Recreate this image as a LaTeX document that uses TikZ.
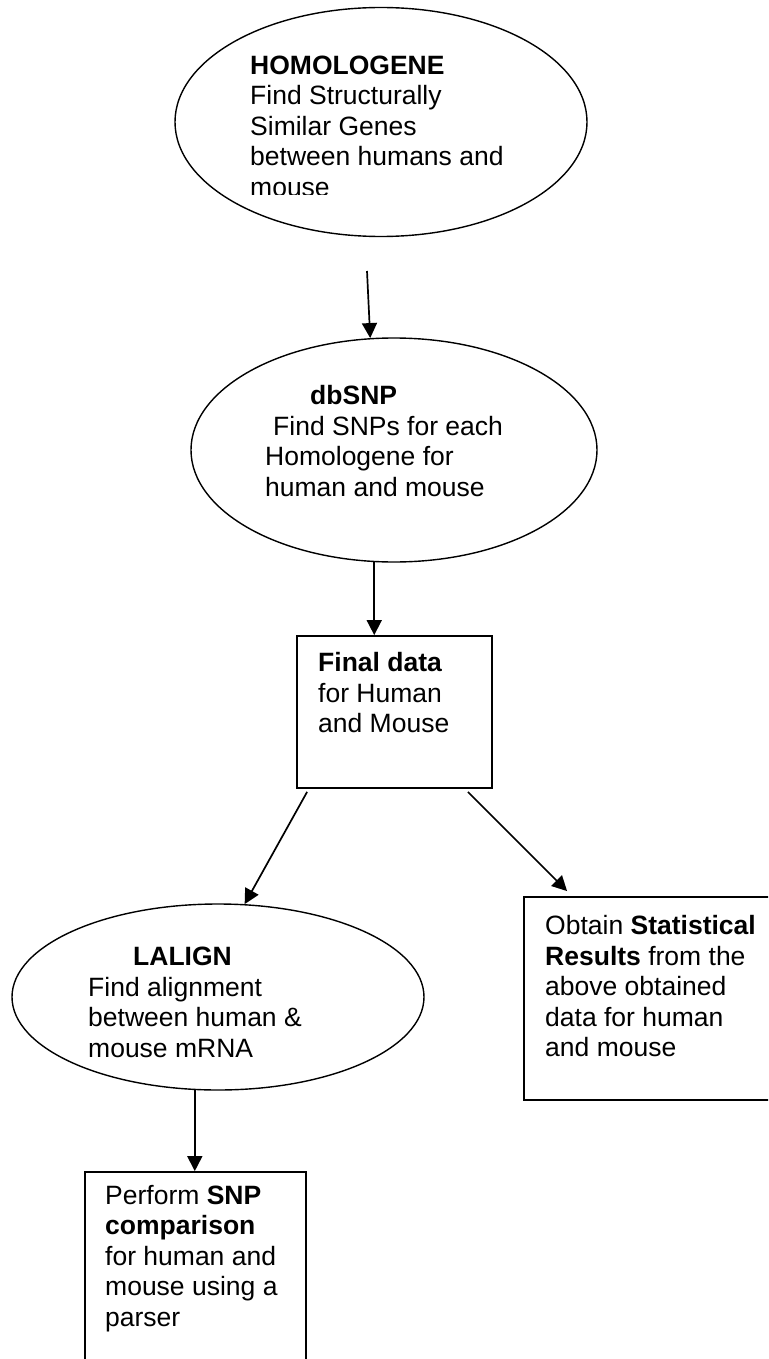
\documentclass[tikz,border=0pt]{standalone}
\usepackage{fontspec}
\setmainfont{Liberation Sans}
\usepackage{tikz}
\usetikzlibrary{calc,positioning,shapes,arrows.meta}
\tikzset{
	oval/.style={draw,ellipse,line width=1.4pt,inner sep=0pt},
	box/.style={draw,rectangle,line width=1.8pt,inner sep=0pt},
	txt/.style={align=left,inner sep=0pt,anchor=base west,
		font=\fontsize{26.5}{30.5}\selectfont},
	arr/.style={-{Triangle[width=15pt,length=15pt]},line width=1.7pt}
}

\begin{document}
\begin{tikzpicture}[x=1pt,y=-1pt]
\useasboundingbox (0,0) rectangle (768,1359);
\clip (0,0) rectangle (768,1359);

\node[oval,minimum width=412pt,minimum height=229pt] (homolog) at (381,122) {};
\node[oval,minimum width=406pt,minimum height=224pt] (dbsnp) at (394,450) {};
\node[box,minimum width=195pt,minimum height=152pt] (final) at (394.5,712) {};
\node[oval,minimum width=412pt,minimum height=186pt] (lalign) at (218,997) {};
\node[box,minimum width=248pt,minimum height=203pt] (stats) at (648,998.5) {};
\node[box,minimum width=221pt,minimum height=228pt] (snp) at (195.5,1286) {};

\begin{scope}
\clip (150,0) rectangle (620,195);
\node[txt] (homologtxt) at (250,196.5) {\textbf{HOMOLOGENE}\\Find Structurally\\Similar Genes\\between humans and\\mouse};
\end{scope}
\node[txt] (dbsnptxt) at (265,496) {\hspace*{45pt}\textbf{dbSNP}\\\hspace*{8pt}Find SNPs for each\\Homologene for\\human and mouse};
\node[txt] (finaltxt) at (318,732.5) {\textbf{Final data}\\for Human\\and Mouse};
\node[txt] (laligntxt) at (88,1057) {\hspace*{45pt}\textbf{LALIGN}\\Find alignment\\between human \&\\mouse mRNA};
\node[txt] (statstxt) at (545,1056.5) {Obtain \textbf{Statistical}\\\textbf{Results} from the\\above obtained\\data for human\\and mouse};
\node[txt] (snptxt) at (105,1326) {Perform \textbf{SNP}\\\textbf{comparison}\\for human and\\mouse using a\\parser};

\coordinate (gap) at (367,271);
\draw[arr] (gap) -- (dbsnp.102);
\draw[arr] (dbsnp.260) -- (dbsnp.260 |- final.north);
\draw[arr] ($(final.south west)+(11,3)$) -- (lalign.74);
\draw[arr] ($(final.south east)+(-25,3)$) -- ($(stats.north west)+(44,-5)$);
\draw[arr] (lalign.256) -- (lalign.256 |- snp.north);

\end{tikzpicture}
\end{document}
